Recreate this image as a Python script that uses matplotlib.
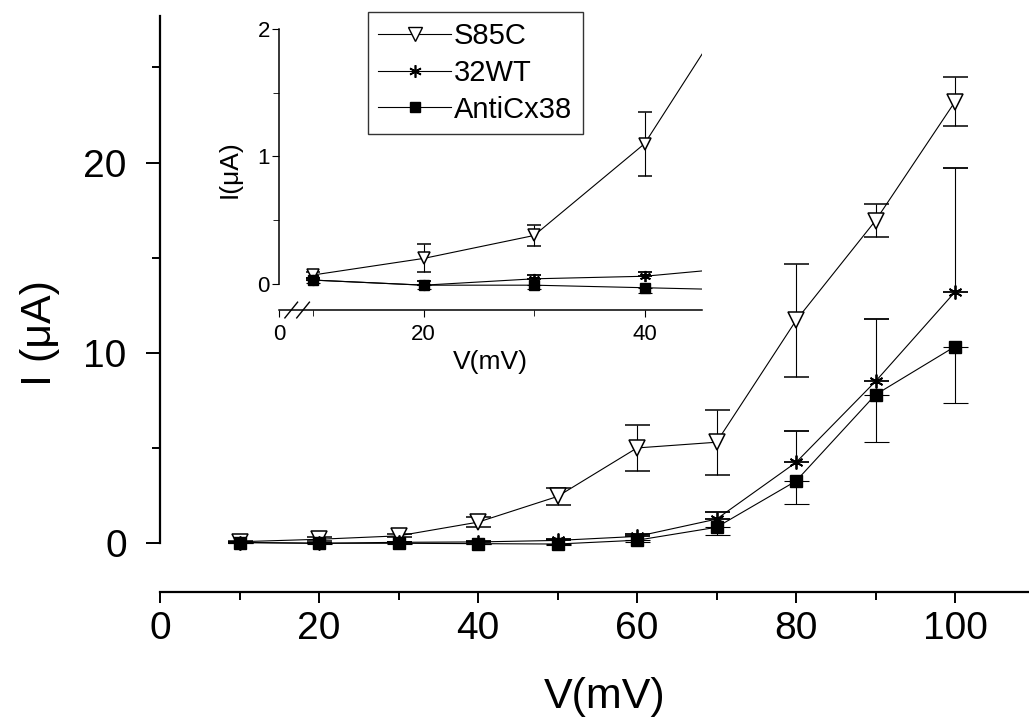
import numpy as np
import matplotlib.pyplot as plt
from matplotlib.ticker import FixedLocator
from matplotlib.lines import Line2D

plt.rcParams['font.family'] = ['Liberation Sans', 'DejaVu Sans']

voltage = [10, 20, 30, 40, 50, 60, 70, 80, 90, 100]
s85c = [0.07, 0.2, 0.38, 1.1, 2.45, 5.0, 5.3, 11.7, 16.95, 23.2]
s85c_err = [0.02, 0.11, 0.08, 0.25, 0.45, 1.2, 1.7, 2.95, 0.87, 1.3]
wt32 = [0.03, -0.01, 0.04, 0.06, 0.14, 0.35, 1.26, 4.24, 8.5, 13.2]
wt32_err = [0.02, 0.03, 0.03, 0.03, 0.05, 0.15, 0.35, 1.64, 3.3, 6.5]
anti = [0.03, -0.01, -0.01, -0.03, -0.05, 0.15, 0.83, 3.26, 7.8, 10.33]
anti_err = [0.02, 0.03, 0.03, 0.04, 0.05, 0.1, 0.41, 1.22, 2.5, 2.95]

zeros = np.zeros(len(voltage))

fig = plt.figure(figsize=(10.29, 7.2), dpi=100)


def draw_series(a, tri, star, sq, cap):
    a.errorbar(voltage, s85c, yerr=s85c_err, color='black', lw=0.8, marker='v',
               ms=tri, mfc='white', mec='black', mew=1.1,
               capsize=cap, elinewidth=0.8, capthick=0.8, zorder=3)
    a.errorbar(voltage, wt32, yerr=[zeros, wt32_err], color='black', lw=0.8,
               marker=(6, 2, 0), ms=star, mew=1.3,
               capsize=cap, elinewidth=0.8, capthick=0.8, zorder=4)
    a.errorbar(voltage, anti, yerr=[anti_err, zeros], color='black', lw=0.8,
               marker='s', ms=sq, mfc='black', mec='black',
               capsize=cap, elinewidth=0.8, capthick=0.8, zorder=4)


# main axes
ax = fig.add_axes([0.1555, 0.1778, 0.8445, 0.8])
ax.set_xlim(0, 109.3)
ax.set_ylim(-2.57, 27.7)
draw_series(ax, 11, 10, 8.5, 9)

ax.spines['top'].set_visible(False)
ax.spines['right'].set_visible(False)
ax.spines['left'].set_bounds(0, 27.7)
ax.spines['left'].set_linewidth(1.6)
ax.spines['bottom'].set_linewidth(1.6)
ax.set_xticks([0, 20, 40, 60, 80, 100])
ax.xaxis.set_minor_locator(FixedLocator([10, 30, 50, 70, 90]))
ax.set_yticks([0, 10, 20])
ax.yaxis.set_minor_locator(FixedLocator([5, 15, 25]))
ax.tick_params(axis='x', which='major', labelsize=28, width=1.4, length=8, pad=6)
ax.tick_params(axis='x', which='minor', width=1.4, length=6)
ax.tick_params(axis='y', which='major', labelsize=28, width=1.4, length=10, pad=14)
ax.tick_params(axis='y', which='minor', width=1.4, length=6)
ax.set_xlabel('V(mV)', fontsize=31, va='top')
ax.xaxis.set_label_coords(0.512, -0.148)
ax.set_ylabel('I (μA)', fontsize=31)
ax.yaxis.set_label_coords(-0.115, 0.45)

# inset
axin = fig.add_axes([0.2711, 0.5694, 0.4111, 0.3903])
axin.patch.set_alpha(0)
axin.set_xlim(6.9, 45.2)
axin.set_ylim(-0.205, 2.0)
draw_series(axin, 8.5, 8, 7, 4.7)
axin.spines['top'].set_visible(False)
axin.spines['right'].set_visible(False)
axin.spines['left'].set_bounds(0, 2)
axin.spines['left'].set_linewidth(1.1)
axin.spines['bottom'].set_linewidth(1.1)
axin.set_xticks([6.9, 20, 40])
axin.set_xticklabels(['0', '20', '40'])
axin.xaxis.set_minor_locator(FixedLocator([10, 30]))
axin.set_yticks([0, 1, 2])
axin.yaxis.set_minor_locator(FixedLocator([0.5, 1.5]))
axin.tick_params(axis='x', which='major', labelsize=16, length=5, pad=5)
axin.tick_params(axis='x', which='minor', length=4)
axin.tick_params(axis='y', which='major', labelsize=16, length=5, pad=1.5)
axin.tick_params(axis='y', which='minor', length=4)
axin.set_xlabel('V(mV)', fontsize=19, labelpad=4)
axin.set_ylabel('I(μA)', fontsize=19)
axin.yaxis.set_label_coords(-0.088, 0.5)

# axis break marks on the inset x axis
for x0 in [0.014, 0.042]:
    axin.plot([x0, x0 + 0.03], [-0.028, 0.028], transform=axin.transAxes,
              color='black', lw=1.0, clip_on=False)

handles = [
    Line2D([], [], color='black', lw=0.8, marker='v', ms=10, mfc='white', mec='black'),
    Line2D([], [], color='black', lw=0.8, marker=(6, 2, 0), ms=9, mew=1.2),
    Line2D([], [], color='black', lw=0.8, marker='s', ms=7, mfc='black'),
]
leg = fig.legend(handles, ['S85C', '32WT', 'AntiCx38'], loc='upper left',
                 bbox_to_anchor=(368 / 1029, 1 - 12 / 720), fontsize=21,
                 frameon=True, fancybox=False, edgecolor='black', handlelength=2.5,
                 handletextpad=0.1, borderpad=0.35, labelspacing=0.3, borderaxespad=0)
leg.get_frame().set_linewidth(1.0)

fig.savefig('out.png', dpi=100)
